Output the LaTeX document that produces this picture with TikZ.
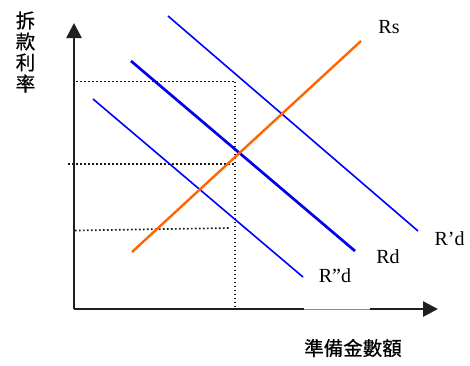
\documentclass[tikz,border=0pt]{standalone}
\usepackage{fontspec}
\setmainfont{Liberation Serif}
\newfontfamily\cjk[FakeBold=0.5]{Noto Sans CJK TC}
\usetikzlibrary{arrows.meta}
\tikzset{
  axis/.style={line width=2.6pt, black!88, -{Triangle[length=15pt,width=15pt]}},
  guide/.style={line width=1.7pt, dash pattern=on 1.7pt off 2.3pt, black!90},
  demand/.style={line width=1.6pt, draw={rgb,255:red,0;green,0;blue,255}},
  demandmain/.style={line width=2.7pt, draw={rgb,255:red,0;green,0;blue,235}},
  supply/.style={line width=2.4pt, draw={rgb,255:red,255;green,102;blue,0}},
  lbl/.style={inner sep=0pt, font=\fontsize{20}{24}\selectfont},
  cjklbl/.style={inner sep=0pt, font=\cjk\fontsize{19.5}{21}\selectfont}
}
\begin{document}
\begin{tikzpicture}[x=1pt,y=-1pt]
\useasboundingbox (0,0) rectangle (470,365);
% axes
\coordinate (O) at (74,309);
\coordinate (ytip) at (74,23);
\coordinate (xtip) at (438,309);
% guides
\coordinate (g1a) at (76,81.5);  \coordinate (g1b) at (235,81.5);
\coordinate (g2a) at (68,164);   \coordinate (g2b) at (235,164);
\coordinate (g3a) at (75,230.5); \coordinate (g3b) at (230,228);
\coordinate (gva) at (235,81.5); \coordinate (gvb) at (235,309);
\draw[guide] (g1a) -- (g1b);
\draw[guide] (g2a) -- (g2b);
\draw[guide] (g3a) -- (g3b);
\draw[guide] (gva) -- (gvb);
% curves
\coordinate (rd1a) at (168,16);  \coordinate (rd1b) at (418,231);
\coordinate (rda) at (131,61);   \coordinate (rdb) at (355,251);
\coordinate (rd2a) at (93,99);   \coordinate (rd2b) at (303,277);
\coordinate (rsa) at (132,252);  \coordinate (rsb) at (361,41);
\draw[demand] (rd1a) -- (rd1b);
\draw[demandmain] (rda) -- (rdb);
\draw[demand] (rd2a) -- (rd2b);
\draw[supply] (rsa) -- (rsb);
\draw[axis] (O) -- (ytip);
\draw[axis] (O) -- (xtip);
% faded stretch of the x axis
\coordinate (fa) at (304,309); \coordinate (fb) at (370,309);
\draw[white, line width=3pt] (fa) -- (fb);
\draw[black!45, line width=0.9pt] (fa) -- (fb);
% labels
\node[lbl] (rs) at (389,27) {Rs};
\node[lbl] (rdp) at (449.5,239) {R’d};
\node[lbl] (rd) at (388,257) {Rd};
\node[lbl] (rdpp) at (335,276) {R”d};
\node[cjklbl] (ylab1) at (25.5,20.5) {拆};
\node[cjklbl] (ylab2) at (25.5,41.5) {款};
\node[cjklbl] (ylab3) at (25.5,62.5) {利};
\node[cjklbl] (ylab4) at (25.5,83.5) {率};
\node[cjklbl] (xlab) at (353,348) {準備金數額};
\end{tikzpicture}
\end{document}
